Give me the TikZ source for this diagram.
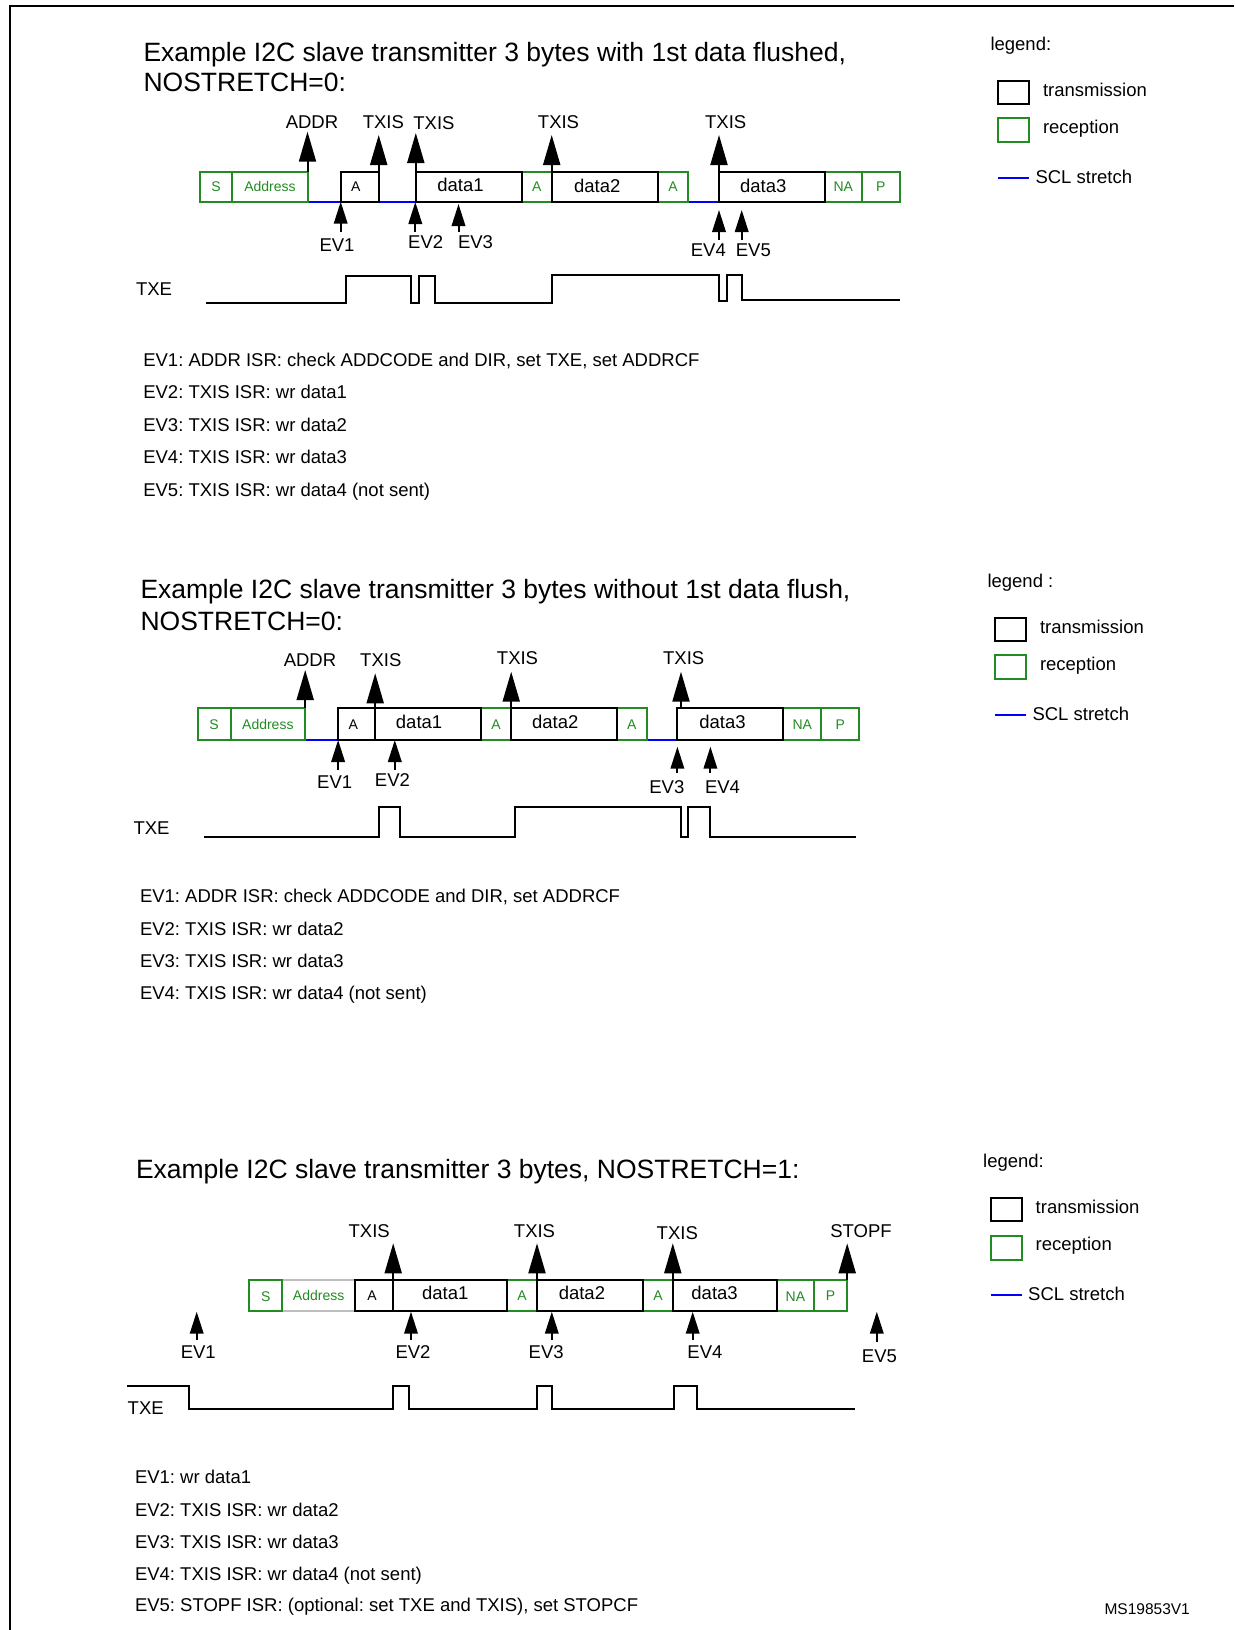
\documentclass[tikz,border=0pt]{standalone}
\usepackage{fontspec}
\setmainfont{Liberation Sans}
\usetikzlibrary{arrows.meta}
\frenchspacing
\definecolor{rxgreen}{RGB}{34,139,34}
\definecolor{sclblue}{RGB}{0,0,255}
\definecolor{addrgray}{RGB}{190,190,190}
\newcommand\mkbox[6]{\node[#1, anchor=north west, minimum width={(#4)-(#3)}, minimum height={(#6)-(#5)}] (#2) at (#3,#5) {};}
\newcommand\uparr[5]{\coordinate (#2-b) at (#3,#5); \coordinate (#2-t) at (#3,#4); \draw[#1] (#2-b) -- (#2-t);}
\newcommand\sclline[4]{\coordinate (#1-l) at (#2,#4); \coordinate (#1-r) at (#3,#4); \draw[scl] (#1-l) -- (#1-r);}
\newcommand\legendblock[2]{%
  \node[lbl, anchor=west] (#1-title) at (990.5,43.5) {#2};
  \mkbox{txbox}{#1-tx}{998.3}{1029.3}{80.7}{104}
  \node[lbl, anchor=west] (#1-txt) at (1043,90) {transmission};
  \mkbox{rxbox}{#1-rx}{998.3}{1029.3}{118.3}{142.3}
  \node[lbl, anchor=west] (#1-rxt) at (1043,126.7) {reception};
  \sclline{#1-scl}{998.3}{1029.3}{178}
  \node[lbl, anchor=west] (#1-sclt) at (1035.5,176.7) {SCL stretch};
}
\begin{document}
\begin{tikzpicture}[x=1pt,y=-1pt, line width=2pt,
  every node/.style={inner sep=0pt, outer sep=0pt},
  title/.style={font=\fontsize{26.5}{30}\selectfont, anchor=west, text height=19pt, text depth=0pt},
  lbl/.style={font=\fontsize{18.5}{22}\selectfont, text height=13.2pt, text depth=0pt},
  desc/.style={lbl, anchor=west},
  small/.style={font=\fontsize{14}{16}\selectfont, text height=10pt, text depth=0pt},
  rxtext/.style={small, text=rxgreen},
  txbox/.style={draw=black},
  rxbox/.style={draw=rxgreen},
  scl/.style={draw=sclblue},
  bigup/.style={-{Triangle[length=30pt,width=17pt]}},
  evup/.style={-{Triangle[length=22pt,width=13.5pt]}},
  wave/.style={line join=miter},
]
\useasboundingbox (0,0) rectangle (1234,1630);
% frame
\coordinate (frtr) at (1234,5.5);
\coordinate (frtl) at (9.5,5.5);
\coordinate (frbl) at (9.5,1630);
\draw (frtr) -- (frtl) -- (frbl);

%================ SECTION 1 ================
\node[title] (t1a) at (143.5,51.7) {Example I2C slave transmitter 3 bytes with 1st data flushed,};
\node[title] (t1b) at (143.5,81.7) {NOSTRETCH=0:};

\sclline{s1b1}{307.5}{340.7}{201.7}
\sclline{s1b2}{378.7}{415.8}{201.7}
\sclline{s1b3}{688.3}{719}{201.7}
\mkbox{rxbox}{s1s}{199.6}{232.4}{171.7}{201.7}
\mkbox{rxbox}{s1ad}{232.4}{307.5}{171.7}{201.7}
\mkbox{rxbox}{s1a2}{521.7}{551.7}{171.7}{201.7}
\mkbox{rxbox}{s1a3}{657.7}{688.3}{171.7}{201.7}
\mkbox{rxbox}{s1na}{825}{861.7}{171.7}{201.7}
\mkbox{rxbox}{s1p}{861.7}{900}{171.7}{201.7}
\mkbox{txbox}{s1a1}{340.7}{378.7}{171.7}{201.7}
\mkbox{txbox}{s1d1}{415.8}{521.7}{171.7}{201.7}
\mkbox{txbox}{s1d2}{551.7}{657.7}{171.7}{201.7}
\mkbox{txbox}{s1d3}{719}{825}{171.7}{201.7}
\node[rxtext] (s1s-l) at (s1s.center) {S};
\node[rxtext] (s1ad-l) at (s1ad.center) {Address};
\node[rxtext] (s1a2-l) at (s1a2.center) {A};
\node[rxtext] (s1a3-l) at (s1a3.center) {A};
\node[rxtext] (s1na-l) at (s1na.center) {NA};
\node[rxtext] (s1p-l) at (s1p.center) {P};
\node[small] (s1a1-l) at ([xshift=-4pt]s1a1.center) {A};
\node[lbl] (s1d1-l) at (460.5,185) {data1};
\node[lbl] (s1d2-l) at (597.3,185.5) {data2};
\node[lbl] (s1d3-l) at (763.3,185.5) {data3};

\uparr{bigup}{s1u1}{307.5}{131.7}{171.7}
\uparr{bigup}{s1u2}{378.7}{135}{171.7}
\uparr{bigup}{s1u3}{415.8}{133}{171.7}
\uparr{bigup}{s1u4}{551.7}{135}{171.7}
\uparr{bigup}{s1u5}{719}{135}{171.7}
\node[lbl] (s1u1-l) at (312,121.7) {ADDR};
\node[lbl] (s1u2-l) at (383.4,121.7) {TXIS};
\node[lbl] (s1u3-l) at (434,123) {TXIS};
\node[lbl] (s1u4-l) at (558.5,121.7) {TXIS};
\node[lbl] (s1u5-l) at (725.7,121.7) {TXIS};

\uparr{evup}{s1e1}{340.7}{201.7}{232}
\uparr{evup}{s1e2}{415.3}{202}{232}
\uparr{evup}{s1e3}{458.5}{204}{232}
\uparr{evup}{s1e4}{719}{210}{240}
\uparr{evup}{s1e5}{741.7}{210}{240}
\node[lbl] (s1e1-l) at (337,245) {EV1};
\node[lbl] (s1e2-l) at (425.7,242.3) {EV2};
\node[lbl] (s1e3-l) at (475.5,242.3) {EV3};
\node[lbl] (s1e4-l) at (708.3,250) {EV4};
\node[lbl] (s1e5-l) at (753.3,250) {EV5};

\node[lbl] (s1txe) at (154,289.3) {TXE};
\draw[wave] (206,303) -- (346,303) -- (346,275.5) -- (411,275.5) -- (411,303) -- (419,303) -- (419,275.5) -- (434.8,275.5) -- (434.8,302.5) -- (552,302.5) -- (552,275) -- (719,275) -- (719,301) -- (726.5,301) -- (726.5,275) -- (741.7,275) -- (741.7,300) -- (900,300);

\node[desc] (s1l1) at (143.3,359.5) {EV1: ADDR ISR: check ADDCODE and DIR, set TXE, set ADDRCF};
\node[desc] (s1l2) at (143.3,392) {EV2: TXIS ISR: wr data1};
\node[desc] (s1l3) at (143.3,424.5) {EV3: TXIS ISR: wr data2};
\node[desc] (s1l4) at (143.3,457) {EV4: TXIS ISR: wr data3};
\node[desc] (s1l5) at (143.3,489.5) {EV5: TXIS ISR: wr data4 (not sent)};

\legendblock{lg1}{legend:}

%================ SECTION 2 ================
\node[title] (t2a) at (140.5,589.3) {Example I2C slave transmitter 3 bytes without 1st data flush,};
\node[title] (t2b) at (140.5,621) {NOSTRETCH=0:};

\sclline{s2b1}{305.2}{338.1}{740}
\sclline{s2b2}{646.9}{677.4}{740}
\mkbox{rxbox}{s2s}{197.6}{230.5}{708.3}{740}
\mkbox{rxbox}{s2ad}{230.5}{305.2}{708.3}{740}
\mkbox{rxbox}{s2a2}{481.1}{511.2}{708.3}{740}
\mkbox{rxbox}{s2a3}{616.8}{646.9}{708.3}{740}
\mkbox{rxbox}{s2na}{783.1}{821.4}{708.3}{740}
\mkbox{rxbox}{s2p}{821.4}{859.2}{708.3}{740}
\mkbox{txbox}{s2a1}{338.1}{374.5}{708.3}{740}
\mkbox{txbox}{s2d1}{374.5}{481.1}{708.3}{740}
\mkbox{txbox}{s2d2}{511.2}{616.8}{708.3}{740}
\mkbox{txbox}{s2d3}{677.4}{783.1}{708.3}{740}
\node[rxtext] (s2s-l) at (s2s.center) {S};
\node[rxtext] (s2ad-l) at (s2ad.center) {Address};
\node[rxtext] (s2a2-l) at (s2a2.center) {A};
\node[rxtext] (s2a3-l) at (s2a3.center) {A};
\node[rxtext] (s2na-l) at (s2na.center) {NA};
\node[rxtext] (s2p-l) at (s2p.center) {P};
\node[small] (s2a1-l) at ([xshift=-3pt]s2a1.center) {A};
\node[lbl] (s2d1-l) at (419.1,721.7) {data1};
\node[lbl] (s2d2-l) at (555.3,721.7) {data2};
\node[lbl] (s2d3-l) at (722.5,721.7) {data3};

\uparr{bigup}{s2u1}{305.2}{670}{708.3}
\uparr{bigup}{s2u2}{375.2}{673.3}{708.3}
\uparr{bigup}{s2u3}{511.2}{671.7}{708.3}
\uparr{bigup}{s2u4}{681}{671.7}{708.3}
\node[lbl] (s2u1-l) at (310,660) {ADDR};
\node[lbl] (s2u2-l) at (380.8,660) {TXIS};
\node[lbl] (s2u3-l) at (517.5,657.7) {TXIS};
\node[lbl] (s2u4-l) at (683.7,657.7) {TXIS};

\uparr{evup}{s2e1}{338.1}{740}{770}
\uparr{evup}{s2e2}{394.8}{740}{770}
\uparr{evup}{s2e3}{677.4}{746.7}{773}
\uparr{evup}{s2e4}{710.4}{746.7}{773}
\node[lbl] (s2e1-l) at (334.7,781.7) {EV1};
\node[lbl] (s2e2-l) at (392.4,780) {EV2};
\node[lbl] (s2e3-l) at (666.8,786.7) {EV3};
\node[lbl] (s2e4-l) at (722.5,786.7) {EV4};

\node[lbl] (s2txe) at (151.5,827.7) {TXE};
\draw[wave] (204,836.7) -- (379,836.7) -- (379,807) -- (400,807) -- (400,836.7) -- (515,836.7) -- (515,807) -- (681,807) -- (681,836.7) -- (688.4,836.7) -- (688.4,807) -- (710.4,807) -- (710.4,836.7) -- (856,836.7);

\node[desc] (s2l1) at (140,896.1) {EV1: ADDR ISR: check ADDCODE and DIR, set ADDRCF};
\node[desc] (s2l2) at (140,928.4) {EV2: TXIS ISR: wr data2};
\node[desc] (s2l3) at (140,960.6) {EV3: TXIS ISR: wr data3};
\node[desc] (s2l4) at (140,992.8) {EV4: TXIS ISR: wr data4 (not sent)};

\begin{scope}[shift={(-3,537)}]
\legendblock{lg2}{legend :}
\end{scope}

%================ SECTION 3 ================
\node[title] (t3a) at (136,1169.3) {Example I2C slave transmitter 3 bytes, NOSTRETCH=1:};

\mkbox{draw=none}{s3ad}{282.4}{354.9}{1280}{1310.7}
\draw[addrgray] (s3ad.north west) -- (s3ad.north east);
\draw[addrgray] (s3ad.south west) -- (s3ad.south east);
\mkbox{rxbox}{s3s}{249.3}{282.4}{1280}{1310.7}
\mkbox{rxbox}{s3a2}{506.9}{537}{1280}{1310.7}
\mkbox{rxbox}{s3a3}{643.2}{672.8}{1280}{1310.7}
\mkbox{rxbox}{s3na}{776.8}{814.1}{1280}{1310.7}
\mkbox{rxbox}{s3p}{814.1}{847.2}{1280}{1310.7}
\mkbox{txbox}{s3a1}{354.9}{393.2}{1280}{1310.7}
\mkbox{txbox}{s3d1}{393.2}{506.9}{1280}{1310.7}
\mkbox{txbox}{s3d2}{537}{643.2}{1280}{1310.7}
\mkbox{txbox}{s3d3}{672.8}{776.8}{1280}{1310.7}
\node[rxtext] (s3s-l) at ([yshift=-1.5pt]s3s.center) {S};
\node[rxtext] (s3ad-l) at (s3ad.center) {Address};
\node[rxtext] (s3a2-l) at (s3a2.center) {A};
\node[rxtext] (s3a3-l) at (s3a3.center) {A};
\node[rxtext] (s3na-l) at ([yshift=-1.5pt]s3na.center) {NA};
\node[rxtext] (s3p-l) at (s3p.center) {P};
\node[small] (s3a1-l) at ([xshift=-2pt]s3a1.center) {A};
\node[lbl] (s3d1-l) at (445.2,1293.3) {data1};
\node[lbl] (s3d2-l) at (581.9,1293.3) {data2};
\node[lbl] (s3d3-l) at (714.6,1293.3) {data3};

\uparr{bigup}{s3u1}{393.2}{1243.3}{1280}
\uparr{bigup}{s3u2}{537}{1243.3}{1280}
\uparr{bigup}{s3u3}{672.8}{1243.3}{1280}
\uparr{bigup}{s3u4}{847.2}{1243.3}{1280}
\node[lbl] (s3u1-l) at (369.2,1230.7) {TXIS};
\node[lbl] (s3u2-l) at (534.5,1230.7) {TXIS};
\node[lbl] (s3u3-l) at (677.3,1232.7) {TXIS};
\node[lbl] (s3u4-l) at (861,1230.7) {STOPF};

\uparr{evup}{s3e1}{196.7}{1311.7}{1340}
\uparr{evup}{s3e2}{411}{1311.7}{1340}
\uparr{evup}{s3e3}{551.8}{1311.7}{1340}
\uparr{evup}{s3e4}{692.7}{1311.7}{1340}
\uparr{evup}{s3e5}{876.8}{1311.7}{1341.7}
\node[lbl] (s3e1-l) at (198.3,1351.7) {EV1};
\node[lbl] (s3e2-l) at (413,1351.7) {EV2};
\node[lbl] (s3e3-l) at (546.2,1351.7) {EV3};
\node[lbl] (s3e4-l) at (704.9,1351.7) {EV4};
\node[lbl] (s3e5-l) at (879.4,1356) {EV5};

\node[lbl] (s3txe) at (145.7,1407.7) {TXE};
\draw[wave] (126.8,1386) -- (189.1,1386) -- (189.1,1408.5) -- (393.2,1408.5) -- (393.2,1386) -- (408.5,1386) -- (408.5,1408.5) -- (537,1408.5) -- (537,1386) -- (551.8,1386) -- (551.8,1408.5) -- (673.8,1408.5) -- (673.8,1386) -- (696.7,1386) -- (696.7,1408.5) -- (854.9,1408.5);

\node[desc] (s3l1) at (135,1477.3) {EV1: wr data1};
\node[desc] (s3l2) at (135,1509.5) {EV2: TXIS ISR: wr data2};
\node[desc] (s3l3) at (135,1541.7) {EV3: TXIS ISR: wr data3};
\node[desc] (s3l4) at (135,1574) {EV4: TXIS ISR: wr data4 (not sent)};
\node[desc] (s3l5) at (135,1605.1) {EV5: STOPF ISR: (optional: set TXE and TXIS), set STOPCF};

\begin{scope}[shift={(-7.3,1117.3)}]
\legendblock{lg3}{legend:}
\end{scope}

\node[font=\fontsize{15.5}{18}\selectfont, text height=11.1pt, text depth=0pt] (msid) at (1147.2,1609.3) {MS19853V1};
\end{tikzpicture}
\end{document}
